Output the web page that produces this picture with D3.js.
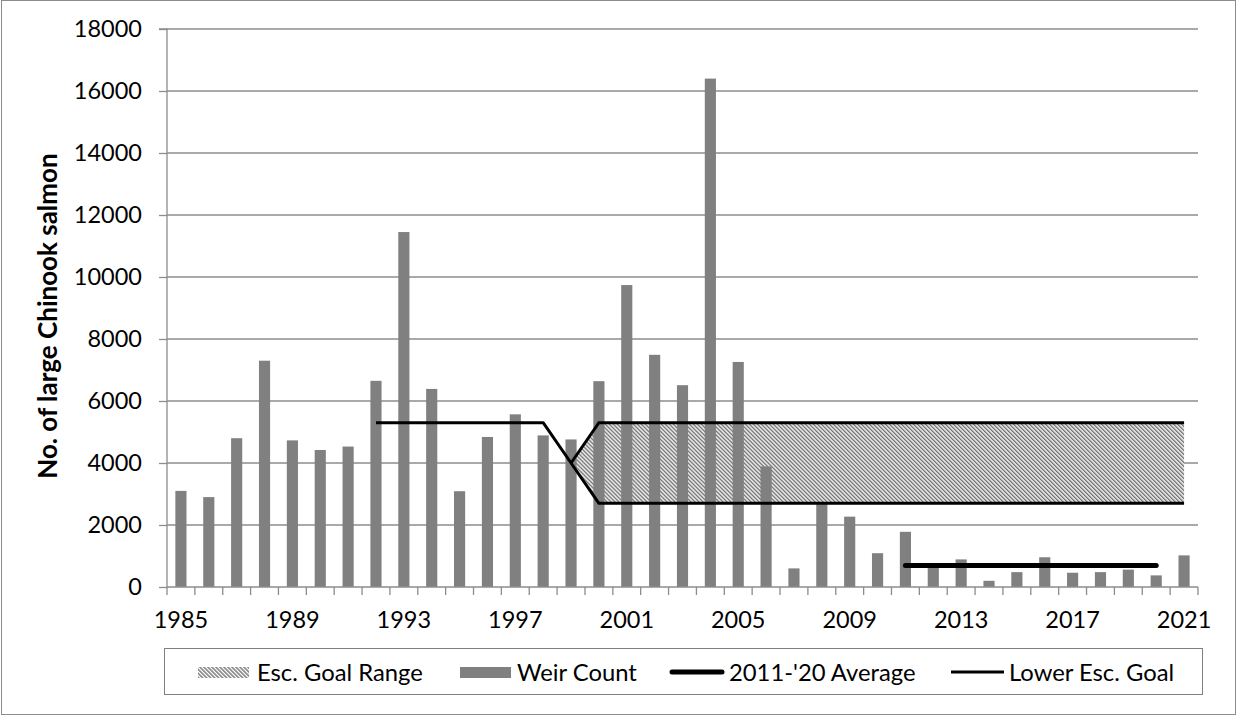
<!DOCTYPE html>
<html>
<head>
<meta charset="utf-8">
<script src="https://cdn.jsdelivr.net/npm/d3@7"></script>
<style>
  html, body { margin: 0; padding: 0; background: #fff; }
  svg text { font-family: Lato, "Open Sans", sans-serif; fill: #000; }
</style>
</head>
<body>
<svg id="chart" width="1239" height="717"></svg>
<script>
// ---- data ----
const years = [1985,1986,1987,1988,1989,1990,1991,1992,1993,1994,1995,1996,1997,1998,1999,2000,2001,2002,2003,2004,2005,2006,2007,2008,2009,2010,2011,2012,2013,2014,2015,2016,2017,2018,2019,2020,2021];
const weirCount = [3100,2900,4800,7300,4730,4420,4530,6650,11450,6390,3090,4840,5570,4890,4760,6640,9740,7490,6510,16400,7260,3890,600,2740,2270,1090,1780,670,890,200,480,960,460,480,560,375,1020];
const lowerGoalYears = [1992,1993,1994,1995,1996,1997,1998,1999,2000,2001,2002,2003,2004,2005,2006,2007,2008,2009,2010,2011,2012,2013,2014,2015,2016,2017,2018,2019,2020,2021];
const lowerGoal = [5300,5300,5300,5300,5300,5300,5300,4000,2700,2700,2700,2700,2700,2700,2700,2700,2700,2700,2700,2700,2700,2700,2700,2700,2700,2700,2700,2700,2700,2700];
const rangeYears = [1999,2000,2001,2002,2003,2004,2005,2006,2007,2008,2009,2010,2011,2012,2013,2014,2015,2016,2017,2018,2019,2020,2021];
const rangeLow = [4000,2700,2700,2700,2700,2700,2700,2700,2700,2700,2700,2700,2700,2700,2700,2700,2700,2700,2700,2700,2700,2700,2700];
const rangeHigh = [4000,5300,5300,5300,5300,5300,5300,5300,5300,5300,5300,5300,5300,5300,5300,5300,5300,5300,5300,5300,5300,5300,5300];
const avgYears = [2011,2012,2013,2014,2015,2016,2017,2018,2019,2020];
const avgValue = [690,690,690,690,690,690,690,690,690,690];
const yTicks = [0,2000,4000,6000,8000,10000,12000,14000,16000,18000];
const xTickLabels = [1985,1989,1993,1997,2001,2005,2009,2013,2017,2021];
const legendLabels = ["Esc. Goal Range","Weir Count","2011-'20 Average","Lower Esc. Goal"];

// ---- layout ----
const svg = d3.select("#chart");
const pL = 167, pR = 1198, pT = 29, pB = 587;
const grey = "#808080", gridC = "#8c8c8c";
const fs = "23.5px";

const x = d3.scaleBand().domain(years).range([pL, pR]).padding(0);
const y = d3.scaleLinear().domain([0, 18000]).range([pB, pT]);
const cx = d => x(d) + x.bandwidth() / 2;

// outer border
svg.append("rect").attr("x", 1.5).attr("y", 0.5).attr("width", 1234).attr("height", 714)
  .attr("fill", "none").attr("stroke", "#8c8c8c").attr("stroke-width", 1);

// pattern
const defs = svg.append("defs");
const pat = defs.append("pattern").attr("id", "hatch").attr("patternUnits", "userSpaceOnUse")
  .attr("width", 2.83).attr("height", 10).attr("patternTransform", "rotate(-45)");
pat.append("rect").attr("width", 2.83).attr("height", 10).attr("fill", "#fff");
pat.append("rect").attr("width", 1.45).attr("height", 10).attr("fill", "#737373");

// gridlines
svg.append("g").selectAll("line").data(yTicks.filter(d => d > 0)).join("line")
  .attr("x1", pL).attr("x2", pR).attr("y1", d => y(d)).attr("y2", d => y(d))
  .attr("stroke", gridC).attr("stroke-width", 1.3);

// hatched range area
const area = d3.area().x((d, i) => cx(rangeYears[i])).y0((d, i) => y(rangeLow[i])).y1((d, i) => y(rangeHigh[i]));
svg.append("path").datum(rangeYears).attr("d", area).attr("fill", "url(#hatch)");

// bars
svg.append("g").selectAll("rect").data(years).join("rect")
  .attr("x", d => x(d) + x.bandwidth() * 0.3)
  .attr("width", x.bandwidth() * 0.4)
  .attr("y", (d, i) => y(weirCount[i]))
  .attr("height", (d, i) => y(0) - y(weirCount[i]))
  .attr("fill", grey);

// y axis
const yAxis = d3.axisLeft(y).tickValues(yTicks).tickSize(8).tickPadding(17).tickFormat(d3.format("d"));
const gy = svg.append("g").attr("transform", `translate(${pL},0)`).call(yAxis);
gy.select(".domain").attr("stroke", gridC).attr("stroke-width", 1.3).attr("d", `M-8,${pT}H0V${pB}`);
gy.selectAll(".tick line").attr("stroke", gridC).attr("stroke-width", 1.3);
gy.selectAll(".tick text").style("font-size", fs).style("font-family", "Lato");

// x axis
const xAxis = d3.axisBottom(x).tickValues(xTickLabels).tickSize(0).tickPadding(24);
const gx = svg.append("g").attr("transform", `translate(0,${pB})`).call(xAxis);
gx.select(".domain").attr("stroke", gridC).attr("stroke-width", 1.3).attr("d", `M${pL},0H${pR}`);
gx.selectAll(".tick text").style("font-size", fs).style("font-family", "Lato");
// category boundary tick marks
const bounds = years.map(d => x(d)).concat([pR]);
svg.append("g").selectAll("line").data(bounds).join("line")
  .attr("x1", d => d).attr("x2", d => d).attr("y1", pB).attr("y2", pB + 8)
  .attr("stroke", gridC).attr("stroke-width", 1.3);

// range upper line
const upper = d3.line().x((d, i) => cx(rangeYears[i])).y((d, i) => y(rangeHigh[i]));
svg.append("path").datum(rangeYears).attr("d", upper).attr("fill", "none")
  .attr("stroke", "#000").attr("stroke-width", 3);

// lower goal line
const lowLine = d3.line().x((d, i) => cx(lowerGoalYears[i])).y((d, i) => y(lowerGoal[i]));
svg.append("path").datum(lowerGoalYears).attr("d", lowLine).attr("fill", "none")
  .attr("stroke", "#000").attr("stroke-width", 3).attr("stroke-linejoin", "round");

// average line
const avgLine = d3.line().x((d, i) => cx(avgYears[i])).y((d, i) => y(avgValue[i]));
svg.append("path").datum(avgYears).attr("d", avgLine).attr("fill", "none")
  .attr("stroke", "#000").attr("stroke-width", 5).attr("stroke-linecap", "round");

// y title
svg.append("text").attr("transform", `translate(57,316) rotate(-90)`)
  .attr("text-anchor", "middle").style("font-size", "26px").style("font-weight", "bold")
  .text("No. of large Chinook salmon");

// legend
const lg = svg.append("g");
lg.append("rect").attr("x", 164.5).attr("y", 648.5).attr("width", 1038).attr("height", 46)
  .attr("fill", "#fff").attr("stroke", "#7f7f7f");
lg.append("rect").attr("x", 198).attr("y", 667).attr("width", 51).attr("height", 11).attr("fill", "url(#hatch)");
lg.append("rect").attr("x", 460).attr("y", 667).attr("width", 51).attr("height", 11).attr("fill", grey);
lg.append("line").attr("x1", 672).attr("x2", 722).attr("y1", 672).attr("y2", 672)
  .attr("stroke", "#000").attr("stroke-width", 5).attr("stroke-linecap", "round");
lg.append("line").attr("x1", 951).attr("x2", 1004).attr("y1", 672).attr("y2", 672)
  .attr("stroke", "#000").attr("stroke-width", 3);
const lx = [257, 517, 729, 1009];
lg.selectAll("text.lt").data(legendLabels).join("text").attr("class", "lt")
  .attr("x", (d, i) => lx[i]).attr("y", 680.5).style("font-size", "23.8px").text(d => d);
</script>
</body>
</html>
